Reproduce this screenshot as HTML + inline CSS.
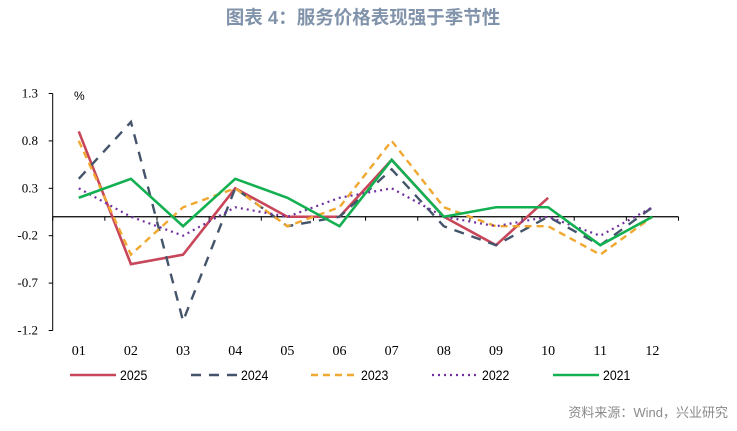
<!DOCTYPE html>
<html><head><meta charset="utf-8"><style>
body{margin:0;background:#fff;width:737px;height:426px;overflow:hidden;font-family:"Liberation Sans","Noto Sans CJK SC",sans-serif}
</style></head><body>
<svg width="737" height="426">
<text x="363" y="24" text-anchor="middle" font-size="18.5" font-weight="bold" fill="#8093aa" font-family="Liberation Sans, Noto Sans CJK SC, sans-serif">图表 4：服务价格表现强于季节性</text>
<g id="axes"></g>
<g id="series"></g>
<g id="legend"></g>
<text x="728" y="417" text-anchor="end" font-size="13" fill="#8a8a8a">资料来源：Wind，兴业研究</text>
</svg>
<script>
const categories=["01","02","03","04","05","06","07","08","09","10","11","12"];
const yTicks=[1.3,0.8,0.3,-0.2,-0.7,-1.2];
const yTickLabels=["1.3","0.8","0.3","-0.2","-0.7","-1.2"];
const s2025=[0.9,-0.5,-0.4,0.3,0,0,0.6,0,-0.3,0.2];
const s2024=[0.4,1.0,-1.1,0.3,-0.1,0,0.5,-0.1,-0.3,0,-0.3,0.1];
const s2023=[0.8,-0.4,0.1,0.3,-0.1,0.1,0.8,0.1,-0.1,-0.1,-0.4,0];
const s2022=[0.3,0,-0.2,0.1,0,0.2,0.3,0,-0.1,0,-0.2,0.1];
const s2021=[0.2,0.4,-0.1,0.4,0.2,-0.1,0.6,0,0.1,0.1,-0.3,0];
const seriesNames=["2025","2024","2023","2022","2021"];
const NS="http://www.w3.org/2000/svg";
const x0=52.7,x1=678.5,bw=(x1-x0)/categories.length;
const yTop=93.5,yBot=330.5,vTop=1.3,vBot=-1.2;
function X(i){return x0+bw*(i+0.5);}
function Y(v){return yTop+(vTop-v)/(vTop-vBot)*(yBot-yTop);}
function mk(t,a,p){const e=document.createElementNS(NS,t);for(const k in a)e.setAttribute(k,a[k]);p.appendChild(e);return e;}
const ax=document.getElementById('axes');
let yl=mk('line',{x1:x0,x2:x0,y1:yTop,y2:yBot,stroke:'#000','stroke-width':1},ax);


yTicks.forEach((v,i)=>{
 mk('line',{x1:x0-4,x2:x0,y1:Y(v),y2:Y(v),stroke:'#000'},ax);
 const t=mk('text',{x:38,y:Y(v)+4,'text-anchor':'end','font-size':13,'font-family':'Liberation Serif, serif'},ax);
 t.textContent=yTickLabels[i];
 
 
});
const u=mk('text',{x:74,y:100,'font-size':12,'font-family':'Liberation Sans, sans-serif'},ax);u.textContent='%';


let xl=mk('line',{x1:x0,x2:x1,y1:Y(0),y2:Y(0),stroke:'#000','stroke-width':1.3},ax);


for(let i=0;i<=categories.length;i++)mk('line',{x1:x0+bw*i,x2:x0+bw*i,y1:Y(0),y2:Y(0)+4,stroke:'#000'},ax);
categories.forEach((c,i)=>{
 const t=mk('text',{x:X(i),y:355,'text-anchor':'middle','font-size':14,'font-family':'Liberation Serif, serif'},ax);
 t.textContent=c;
 
 
});
const styles=[
 {c:'#c8465a',d:'',w:2.6},
 {c:'#44546a',d:'10,8',w:2.4},
 {c:'#f0a830',d:'7,5',w:2.4},
 {c:'#7030a0',d:'2,4',w:2.2},
 {c:'#12b050',d:'',w:2.6}];
const data=[s2025,s2024,s2023,s2022,s2021];
const sg=document.getElementById('series');
data.forEach((arr,k)=>{
 const p=arr.map((v,i)=>X(i)+','+Y(v)).join(' ');
 const pl=mk('polyline',{points:p,fill:'none',stroke:styles[k].c,'stroke-width':styles[k].w,'stroke-dasharray':styles[k].d,'stroke-linejoin':'miter'},sg);
 
 
});
const lg=document.getElementById('legend');
const lx=[70,191,311,432,553];
seriesNames.forEach((n,k)=>{
 const g=mk('g',{},lg);
 
 
 mk('line',{x1:lx[k],x2:lx[k]+46,y1:375,y2:375,stroke:styles[k].c,'stroke-width':styles[k].w,'stroke-dasharray':styles[k].d},g);
 const t=mk('text',{x:lx[k]+50,y:380,'font-size':14,transform:'translate('+(lx[k]+50)+',0) scale(0.88,1) translate('+(-(lx[k]+50))+',0)'},g);
 t.textContent=n;
});
</script>
</body></html>
